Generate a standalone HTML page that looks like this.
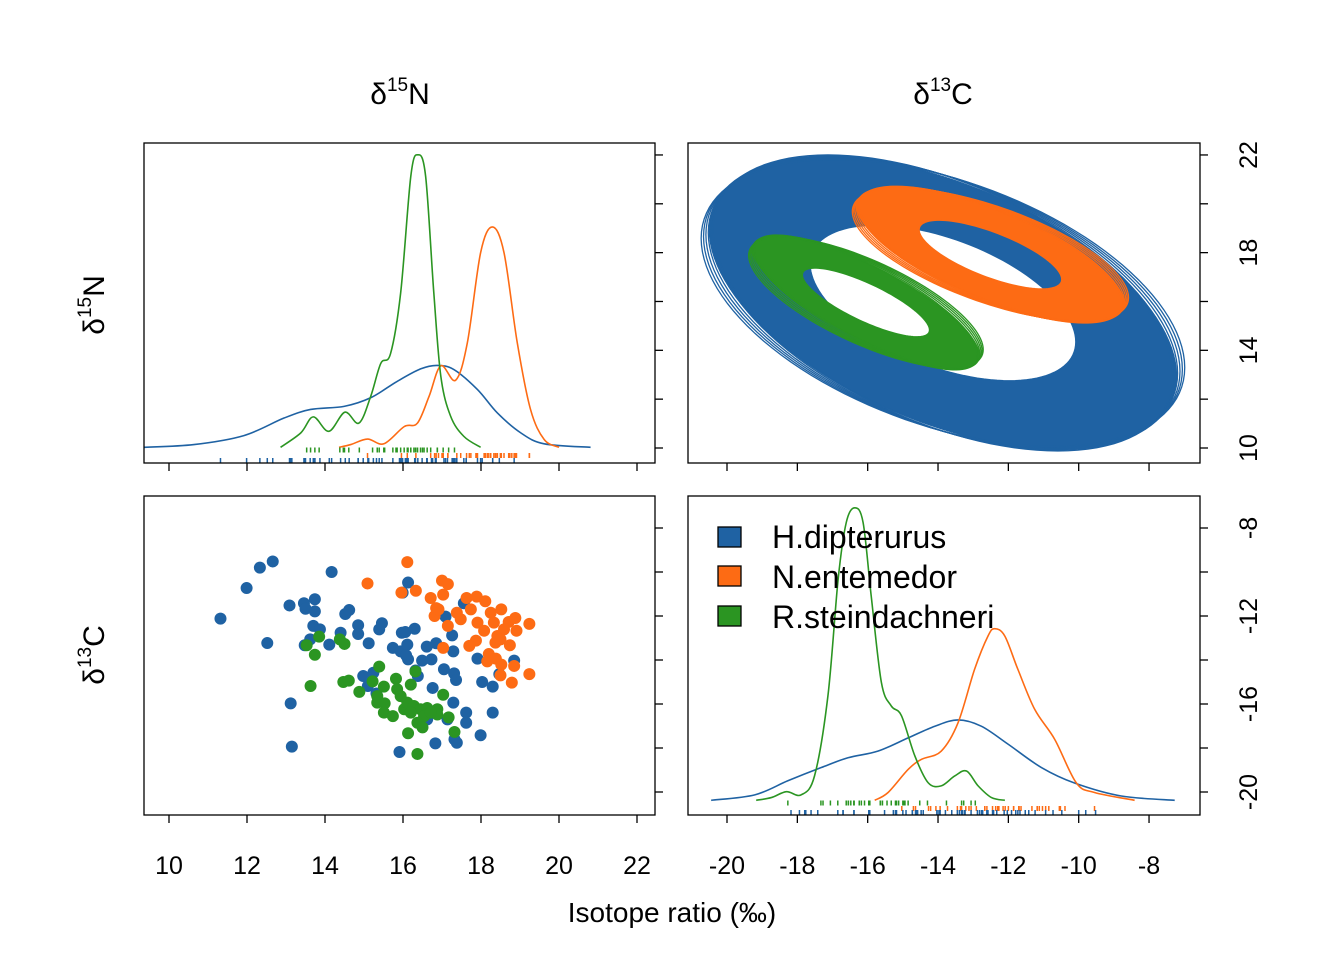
<!DOCTYPE html>
<html><head><meta charset="utf-8"><style>
html,body{margin:0;padding:0;background:#fff;}
svg{display:block;font-family:"Liberation Sans",Arial,sans-serif;}
</style></head><body>
<svg id="chart" width="1344" height="960" viewBox="0 0 1344 960" xmlns="http://www.w3.org/2000/svg">
<rect width="1344" height="960" fill="#fff"/>
<g id="g-ell"></g>
<g id="g-dens1"></g>
<g id="g-dens2"></g>
<g id="g-scat"></g>
<g id="g-axes"></g>
<text x="400" y="104" font-size="30" text-anchor="middle">δ<tspan font-size="19" dy="-13">15</tspan><tspan dy="13">N</tspan></text>
<text x="943" y="104" font-size="30" text-anchor="middle">δ<tspan font-size="19" dy="-13">13</tspan><tspan dy="13">C</tspan></text>
<text transform="translate(104,305) rotate(-90)" font-size="30" text-anchor="middle">δ<tspan font-size="19" dy="-13">15</tspan><tspan dy="13">N</tspan></text>
<text transform="translate(104,655) rotate(-90)" font-size="30" text-anchor="middle">δ<tspan font-size="19" dy="-13">13</tspan><tspan dy="13">C</tspan></text>
<text x="672" y="922" font-size="28" text-anchor="middle">Isotope ratio (‰)</text>
<g>
<rect x="718" y="527" width="23" height="20" fill="#1f62a3" stroke="#000" stroke-width="1.3"/>
<text x="772" y="548" font-size="32">H.dipterurus</text>
<rect x="718" y="566" width="23" height="20" fill="#fd6b14" stroke="#000" stroke-width="1.3"/>
<text x="772" y="588" font-size="32">N.entemedor</text>
<rect x="718" y="606" width="23" height="20" fill="#2b9522" stroke="#000" stroke-width="1.3"/>
<text x="772" y="628" font-size="32">R.steindachneri</text>
</g>
</svg>
<script>
const species = ["H.dipterurus","N.entemedor","R.steindachneri"];
const colors = ["#1f62a3","#fd6b14","#2b9522"];
// scatter data: d15N, d13C
const blueN=[11.32,11.99,12.33,12.66,14.17,12.52,13.09,13.46,13.50,13.74,13.74,13.70,13.87,13.48,13.62,14.11,14.40,14.52,14.62,14.85,14.85,15.12,15.39,15.46,15.97,16.06,16.30,16.13,15.99,15.74,15.94,16.11,16.13,16.08,16.61,16.85,16.49,16.73,16.32,16.38,17.09,17.26,17.29,17.56,17.05,17.31,17.36,16.76,14.98,15.24,15.10,15.32,17.29,17.14,17.62,17.62,17.91,18.03,18.30,18.30,18.85,18.47,17.99,17.38,16.83,15.91,13.12,13.15,16.62,17.32];
const blueC=[-12.12,-10.73,-9.80,-9.52,-10.00,-13.23,-11.52,-11.42,-11.67,-11.24,-11.79,-12.45,-12.61,-13.33,-13.06,-13.30,-12.76,-11.91,-11.73,-12.42,-12.82,-13.24,-12.61,-12.33,-12.76,-12.73,-12.58,-10.48,-10.94,-13.45,-13.61,-13.30,-13.97,-13.79,-13.39,-13.24,-14.03,-13.97,-14.48,-14.73,-12.03,-12.88,-13.61,-11.42,-14.42,-14.61,-14.91,-15.27,-14.73,-14.58,-15.18,-15.52,-15.94,-16.70,-16.39,-16.85,-13.94,-15.00,-15.21,-16.39,-14.03,-14.64,-17.42,-17.76,-17.79,-18.18,-15.97,-17.94,-16.70,-17.61];
const orangeN=[15.09,16.11,15.96,16.33,17.00,17.15,17.03,16.71,16.85,16.81,16.91,17.15,17.38,17.48,17.63,17.89,18.11,17.74,18.25,17.91,18.08,18.33,18.52,18.71,18.88,18.91,19.24,18.42,18.37,18.74,17.87,17.70,17.03,18.20,18.16,18.38,18.52,18.50,18.85,18.79,19.24,18.59,18.50];
const orangeC=[-10.52,-9.55,-10.94,-10.85,-10.39,-10.55,-11.03,-11.18,-11.64,-12.00,-11.70,-12.45,-11.85,-12.15,-11.18,-11.12,-11.33,-11.70,-11.85,-12.30,-12.67,-12.30,-11.70,-12.27,-12.09,-12.67,-12.36,-12.91,-13.21,-13.33,-13.12,-13.36,-13.45,-13.73,-14.06,-13.94,-14.21,-14.70,-14.27,-15.03,-14.64,-12.61,-13.06];
const greenN=[13.53,13.85,13.74,14.38,14.50,13.63,14.47,14.61,14.88,15.39,15.22,15.51,15.82,16.20,16.32,15.85,15.34,15.34,15.53,15.51,15.74,16.03,16.11,16.28,16.45,16.62,16.54,16.37,16.50,16.88,16.88,17.03,17.17,17.32,16.13,16.37,15.94,16.20,16.71];
const greenC=[-13.33,-12.94,-13.76,-13.06,-13.27,-15.18,-15.00,-14.94,-15.45,-14.30,-14.97,-15.21,-14.85,-15.12,-14.52,-15.33,-15.64,-15.94,-15.97,-16.39,-16.55,-16.24,-15.94,-16.09,-16.24,-16.18,-16.55,-16.85,-17.06,-16.24,-16.48,-15.58,-16.61,-17.27,-17.33,-18.27,-15.64,-16.39,-16.39];
// density curves d15N
const densNBlueX=[9.36,10.64,11.92,12.95,13.63,14.49,15.17,15.85,16.45,16.88,17.31,17.91,18.42,19.02,19.62,20.81];
const densNBlueY=[0,.007,.030,.075,.097,.105,.127,.169,.201,.210,.199,.148,.088,.037,.009,0];
const densNGreenX=[12.86,13.38,13.70,14.10,14.51,14.87,15.17,15.43,15.68,15.94,16.20,16.38,16.58,16.79,16.97,17.22,17.56,17.99];
const densNGreenY=[0,.037,.078,.041,.090,.062,.130,.215,.240,.396,.695,.750,.695,.396,.182,.080,.028,0];
const densNOrangeX=[14.36,14.66,15.09,15.51,16.03,16.37,16.67,16.97,17.35,17.65,17.99,18.29,18.59,18.93,19.27,19.62,20.00];
const densNOrangeY=[0,.007,.021,.009,.053,.062,.131,.209,.172,.268,.499,.565,.499,.268,.097,.020,0];
// density curves d13C
const densCBlueX=[-20.45,-19.21,-18.27,-17.32,-16.56,-15.71,-14.85,-14.09,-13.43,-12.77,-12.01,-11.06,-10.11,-8.79,-7.27];
const densCBlueY=[0,.014,.050,.084,.109,.126,.160,.190,.206,.190,.144,.084,.044,.011,0];
const densCGreenX=[-19.17,-18.74,-18.31,-17.89,-17.51,-17.13,-16.84,-16.61,-16.37,-16.13,-15.90,-15.61,-15.33,-15.04,-14.66,-14.28,-13.91,-13.53,-13.19,-12.86,-12.48,-12.10];
const densCGreenY=[0,.007,.022,.014,.063,.268,.567,.712,.750,.712,.524,.302,.242,.217,.114,.045,.037,.062,.075,.037,.007,0];
const densCOrangeX=[-15.80,-15.42,-14.85,-14.47,-13.91,-13.43,-12.96,-12.58,-12.39,-12.10,-11.73,-11.25,-10.68,-10.07,-9.55,-8.41];
const densCOrangeY=[0,.020,.079,.105,.126,.199,.336,.421,.440,.421,.336,.233,.156,.045,.020,0];
// ellipse parameters (d13C centre, d15N centre, radii, correlation) per species
const ellCx=[-13.86,-12.51,-16.05];
const ellCy=[15.94,17.92,15.96];
const ellRxIn=[3.78,2.03,1.81];
const ellRxOut=[6.74,3.85,3.27];
const ellRyIn=[3.19,1.41,1.41];
const ellRyOut=[6.06,2.80,2.76];
const ellRho=[-0.5,-0.72,-0.8];
const ticksN=[10,12,14,16,18,20,22];
const ticksC=[-20,-18,-16,-14,-12,-10,-8];
const ticksCy=[-8,-10,-12,-14,-16,-18,-20];

const NS="http://www.w3.org/2000/svg";
const xN=v=>169+(v-10)*39;
const xC=v=>727+(v+20)*35.17;
const yN=v=>448-(v-10)*24.42;
const yC=v=>528-(v+8)*22;
const yD1=d=>447.3-d*390;
const yD2=d=>800.3-d*390;
function mk(tag,attrs,parent){const e=document.createElementNS(NS,tag);for(const k in attrs)e.setAttribute(k,attrs[k]);parent.appendChild(e);return e;}
function smooth(pts){let d="M"+pts[0][0].toFixed(2)+","+pts[0][1].toFixed(2);
 for(let i=0;i<pts.length-1;i++){const p0=pts[Math.max(0,i-1)],p1=pts[i],p2=pts[i+1],p3=pts[Math.min(pts.length-1,i+2)];
  const c1x=p1[0]+(p2[0]-p0[0])/6,c1y=p1[1]+(p2[1]-p0[1])/6,c2x=p2[0]-(p3[0]-p1[0])/6,c2y=p2[1]-(p3[1]-p1[1])/6;
  d+=" C"+c1x.toFixed(2)+","+c1y.toFixed(2)+" "+c2x.toFixed(2)+","+c2y.toFixed(2)+" "+p2[0].toFixed(2)+","+p2[1].toFixed(2);}
 return d;}

// Ellipses
const gE=document.getElementById('g-ell');
function ellPath(cx,cy,rx,ry,rho){let d="";const s=Math.sqrt(1-rho*rho);
 for(let k=0;k<=120;k++){const t=k/120*2*Math.PI;const x=xC(cx+rx*Math.cos(t));const y=yN(cy+ry*(rho*Math.cos(t)+s*Math.sin(t)));d+=(k?"L":"M")+x.toFixed(2)+","+y.toFixed(2);}
 return d+"Z";}
[0,1,2].forEach(i=>{
 const g=mk('g',{},gE);
 
 
 const ring=mk('path',{d:ellPath(ellCx[i],ellCy[i],ellRxOut[i]*0.985,ellRyOut[i]*0.985,ellRho[i])+ellPath(ellCx[i],ellCy[i],ellRxIn[i],ellRyIn[i],ellRho[i]),fill:colors[i],'fill-rule':'evenodd',stroke:colors[i],'stroke-width':1.5},g);
 
 
 for(let k=0;k<6;k++){const fx=0.97+k*0.01, fy=1.0-k*0.006;
  const e=mk('path',{d:ellPath(ellCx[i],ellCy[i],ellRxOut[i]*fx,ellRyOut[i]*fy,ellRho[i]*(1-0.02*k)),fill:'none',stroke:colors[i],'stroke-width':1.3},g);
  
  }
});

// Densities
function dens(gid,xs,ys,xf,yf,col,name){const g=document.getElementById(gid);
 const p=mk('path',{d:smooth(xs.map((v,i)=>[xf(v),yf(ys[i])])),fill:'none',stroke:col,'stroke-width':1.6},g);
 
 }
dens('g-dens1',densNBlueX,densNBlueY,xN,yD1,colors[0],'density-d15n-h-dipterurus');
dens('g-dens1',densNOrangeX,densNOrangeY,xN,yD1,colors[1],'density-d15n-n-entemedor');
dens('g-dens1',densNGreenX,densNGreenY,xN,yD1,colors[2],'density-d15n-r-steindachneri');
dens('g-dens2',densCBlueX,densCBlueY,xC,yD2,colors[0],'density-d13c-h-dipterurus');
dens('g-dens2',densCOrangeX,densCOrangeY,xC,yD2,colors[1],'density-d13c-n-entemedor');
dens('g-dens2',densCGreenX,densCGreenY,xC,yD2,colors[2],'density-d13c-r-steindachneri');
// rugs
function rug(gid,vals,xf,y0,col,name){const g=document.getElementById(gid);
 vals.forEach(v=>{const l=mk('line',{x1:xf(v),x2:xf(v),y1:y0,y2:y0+5,stroke:col,'stroke-width':1.5},g);
  
  });}
rug('g-dens1',greenN,xN,447.5,colors[2],'rug-d15n-r-steindachneri');
rug('g-dens1',orangeN,xN,453,colors[1],'rug-d15n-n-entemedor');
rug('g-dens1',blueN,xN,458,colors[0],'rug-d15n-h-dipterurus');
rug('g-dens2',greenC,xC,800.5,colors[2],'rug-d13c-r-steindachneri');
rug('g-dens2',orangeC,xC,806,colors[1],'rug-d13c-n-entemedor');
rug('g-dens2',blueC,xC,810,colors[0],'rug-d13c-h-dipterurus');

// Scatter
const gS=document.getElementById('g-scat');
[[blueN,blueC],[orangeN,orangeC],[greenN,greenC]].forEach((s,i)=>{
 s[0].forEach((v,j)=>{const c=mk('circle',{cx:xN(v),cy:yC(s[1][j]),r:6,fill:colors[i]},gS);
  
  });
});

// Axes / frames
const gA=document.getElementById('g-axes');
const panels=[[144,143,655,463,'top-left'],[688,143,1200,463,'top-right'],[144,496,655,815,'bottom-left'],[688,496,1200,815,'bottom-right']];
panels.forEach(p=>{const r=mk('rect',{x:p[0],y:p[1],width:p[2]-p[0],height:p[3]-p[1],fill:'none',stroke:'#000','stroke-width':1.3},gA);
 
 });
function tick(x1,y1,x2,y2){const l=mk('line',{x1:x1,y1:y1,x2:x2,y2:y2,stroke:'#000','stroke-width':1.3},gA);
 
 }
function label(x,y,txt,rot,name){const t=mk('text',{x:x,y:y,'font-size':25,'text-anchor':'middle'},gA);
 if(rot)t.setAttribute('transform','rotate(-90 '+x+' '+y+')');
 t.textContent=txt;
 
 }
ticksN.forEach(v=>{tick(xN(v),463,xN(v),471);tick(xN(v),815,xN(v),823);label(xN(v),874,String(v),false,'x-tick-label-d15n');});
ticksC.forEach(v=>{tick(xC(v),463,xC(v),471);tick(xC(v),815,xC(v),823);label(xC(v),874,String(v),false,'x-tick-label-d13c');});
ticksN.forEach((v,i)=>{tick(655,yN(v),663,yN(v));tick(1200,yN(v),1208,yN(v));if(i%2===0)label(1257,yN(v),String(v),true,'y-tick-label-d15n');});
ticksCy.forEach((v,i)=>{tick(655,yC(v),663,yC(v));tick(1200,yC(v),1208,yC(v));if(i%2===0)label(1257,yC(v),String(v),true,'y-tick-label-d13c');});
</script>
</body></html>
